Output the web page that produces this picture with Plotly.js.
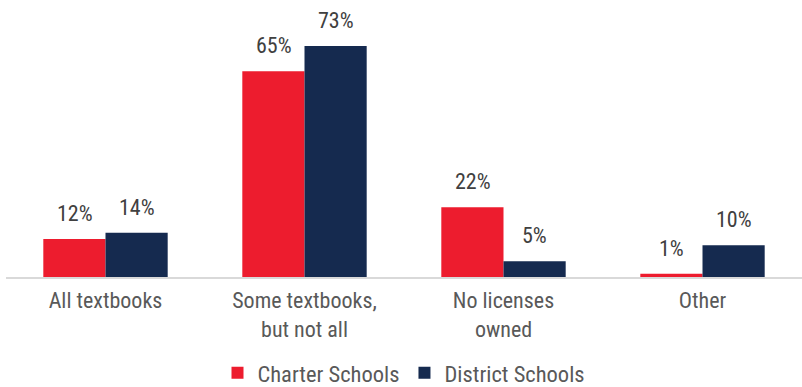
<!DOCTYPE html>
<html><head><meta charset="utf-8">
<script src="https://cdn.plot.ly/plotly-3.0.1.min.js"></script>
<style>html,body{margin:0;padding:0;background:#fff}</style>
</head><body>
<div id="chart" style="width:802px;height:387px"></div>
<script>
var categories = ["All textbooks", "Some textbooks,<br>but not all", "No licenses<br>owned", "Other"];
var seriesNames = ["Charter Schools", "District Schools"];
var charter = [12, 65, 22, 1];
var district = [14, 73, 5, 10];
var colors = ["#ED1C2E", "#152A4F"];
var FONT = "'Roboto Condensed', 'Liberation Sans', Arial, sans-serif";

var traces = [charter, district].map(function(vals, i){
  return {type:"bar", name:seriesNames[i], x:categories, y:vals,
    marker:{color:colors[i], line:{width:0}}, hoverinfo:"none"};
});
var annotations = [];
[charter, district].forEach(function(vals, i){
  vals.forEach(function(v, j){
    annotations.push({x:categories[j], y:v, xref:"x", yref:"y", text:v+"%",
      showarrow:false, yanchor:"bottom", xshift:(i===0?-31:31), yshift:11,
      font:{family:FONT, size:22, color:"#404040"}});
  });
});
var layout = {
  width:802, height:387,
  margin:{l:6, r:0, t:0, b:110, autoexpand:false},
  paper_bgcolor:"#fff", plot_bgcolor:"#fff",
  barmode:"group", bargap:0.375, bargroupgap:0,
  xaxis:{type:"category", showline:true, linecolor:"#D9D9D9", linewidth:1.5,
    ticks:"", showgrid:false, zeroline:false, ticklabelstandoff:3, automargin:false,
    tickfont:{family:FONT, size:22, color:"#595959"}},
  yaxis:{range:[0, 87.5], visible:false, showgrid:false, zeroline:false, automargin:false},
  showlegend:true,
  legend:{orientation:"h", x:0.5, xanchor:"center", y:-0.347, yanchor:"middle",
    font:{family:FONT, size:22.5, color:"#595959"}, itemwidth:30, traceorder:"normal"},
  annotations:annotations
};
Plotly.newPlot("chart", traces, layout, {displayModeBar:false, staticPlot:true});
</script>
</body></html>
